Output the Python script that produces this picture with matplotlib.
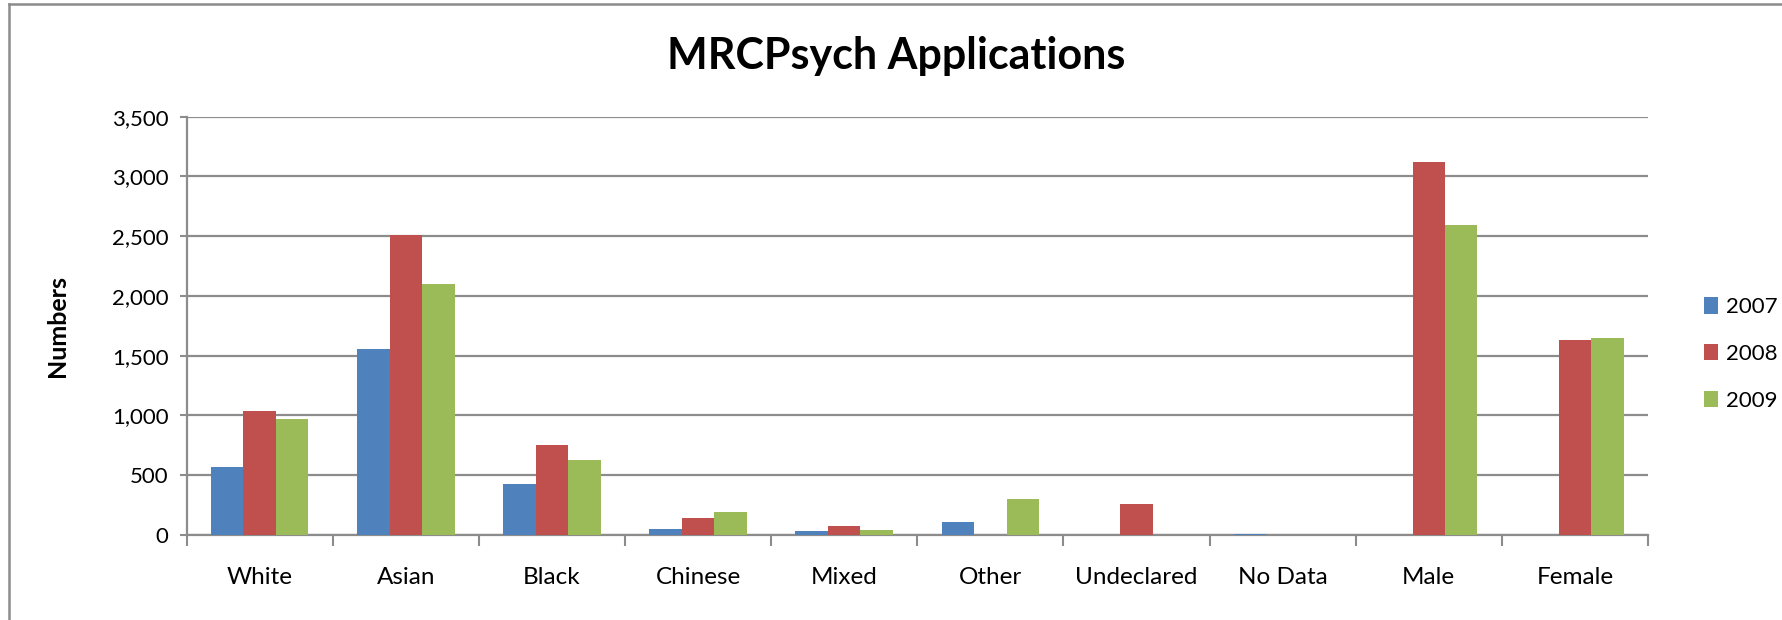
import matplotlib
matplotlib.use("Agg")
import matplotlib.pyplot as plt
import numpy as np
from matplotlib.lines import Line2D

plt.rcParams["font.family"] = ["Lato", "DejaVu Sans"]

categories = ["White", "Asian", "Black", "Chinese", "Mixed", "Other",
              "Undeclared", "No Data", "Male", "Female"]
years = ["2007", "2008", "2009"]
apps_2007 = [566, 1554, 427, 47, 33, 106, 0, 12, 0, 0]
apps_2008 = [1035, 2508, 753, 140, 78, 0, 259, 0, 3124, 1629]
apps_2009 = [968, 2100, 628, 190, 42, 301, 0, 0, 2594, 1646]
y_ticks = [0, 500, 1000, 1500, 2000, 2500, 3000, 3500]

colors = ["#4F81BD", "#C0504D", "#9BBB59"]
grid_col = "#8C8C8C"

fig = plt.figure(figsize=(17.82, 6.2), dpi=100)
ax = fig.add_axes([0.1047, 0.1371, 0.8201, 0.6747])

x = np.arange(len(categories))
w = 1 / 4.5
for i, (vals, c, lab) in enumerate(zip([apps_2007, apps_2008, apps_2009],
                                       colors, years)):
    ax.bar(x + (i - 1) * w, vals, width=w, color=c, label=lab,
           edgecolor="none", zorder=3)

ax.set_xlim(-0.5, len(categories) - 0.5)
ax.set_ylim(0, 3500)
ax.set_yticks(y_ticks)
ax.set_yticklabels([f"{v:,}" for v in y_ticks])
ax.yaxis.grid(True, color=grid_col, lw=1.6, zorder=0)
ax.set_axisbelow(True)

ax.set_xticks(x)
ax.set_xticklabels(categories)
ax.set_xticks(np.arange(-0.5, len(categories)), minor=True)
ax.tick_params(axis="x", which="major", length=0, pad=23, labelsize=17.5)
ax.tick_params(axis="x", which="minor", length=8, width=1.5,
               color=grid_col, direction="out")
ax.tick_params(axis="y", length=5, width=1.5, color=grid_col, pad=8,
               labelsize=16)

for s in ["top", "right"]:
    ax.spines[s].set_visible(False)
for s in ["left", "bottom"]:
    ax.spines[s].set_color(grid_col)
    ax.spines[s].set_linewidth(1.6)

ax.set_ylabel("Numbers", fontsize=18, fontweight="bold", labelpad=31)
fig.text(0.503, 0.91, "MRCPsych Applications", ha="center", va="center",
         fontsize=31, fontweight="bold")

fig.legend(loc="center left", bbox_to_anchor=(1684 / 1782, 1 - 354 / 620),
           frameon=False, fontsize=16, handlelength=0.65,
           handleheight=0.75, handletextpad=0.35, labelspacing=1.2)

# chart area border (top and left edges visible)
fig.add_artist(Line2D([9 / 1782, 9 / 1782], [0, 1 - 4 / 620],
                      transform=fig.transFigure, color=grid_col, lw=1.8))
fig.add_artist(Line2D([9 / 1782, 1], [1 - 4 / 620, 1 - 4 / 620],
                      transform=fig.transFigure, color=grid_col, lw=1.8))

fig.savefig("out.png", dpi=100)
